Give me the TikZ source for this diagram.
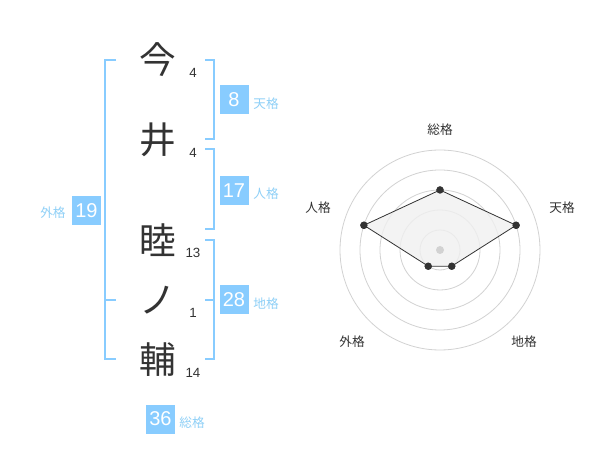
\documentclass[tikz,border=0pt]{standalone}
\usepackage{fontspec}
\setmainfont{Liberation Sans}
\newfontfamily\cjk{Noto Sans CJK JP}
\usetikzlibrary{positioning}
\definecolor{kakublue}{HTML}{88CCFF}
\definecolor{kakulabel}{HTML}{8FD0F7}
\definecolor{inkgray}{HTML}{333333}
\definecolor{ringgray}{HTML}{D2D2D2}
\definecolor{areagray}{HTML}{F0F0F0}
\tikzset{
  kanji/.style={text=inkgray, font=\cjk\fontsize{27.5}{27.5}\selectfont, inner sep=0pt},
  strokes/.style={text=inkgray, font=\fontsize{10}{10}\selectfont, inner sep=0pt},
  kakubox/.style={fill=kakublue, text=white, minimum size=21.75pt, inner sep=0pt, font=\fontsize{15}{15}\selectfont},
  kakuname/.style={text=kakulabel, font=\cjk\fontsize{9.5}{9.5}\selectfont, inner sep=0pt},
  bracket/.style={draw=kakublue, line width=1.5pt},
  ring/.style={draw=ringgray, line width=0.6pt},
  radarname/.style={text=inkgray, font=\cjk\fontsize{9.5}{9.5}\selectfont, inner sep=0pt},
  dot/.style={circle, fill=inkgray, inner sep=0pt, minimum size=5.5pt}
}
\begin{document}
\begin{tikzpicture}[x=0.75pt,y=-0.75pt]
\useasboundingbox[fill=white] (0,0) rectangle (600,470);

% name characters and stroke counts
\node (K-1) at (158,60) [kanji]{今};
\node (K-2) at (158,140) [kanji]{井};
\node (K-3) at (158,240) [kanji]{睦};
\node (K-4) at (158,300) [kanji]{ノ};
\node (K-5) at (158,360) [kanji]{輔};

\node (S-1) at (193,73) [strokes]{4};
\node (S-2) at (193,153) [strokes]{4};
\node (S-3) at (193,253) [strokes]{13};
\node (S-4) at (193,313) [strokes]{1};
\node (S-5) at (193,373) [strokes]{14};

% brackets
\path [bracket](116,60) -- (105,60) -- (105,359) -- (116,359);
\path [bracket](105,300) -- (116,300);
\path [bracket](205,60) -- (214,60) -- (214,139) -- (205,139);
\path [bracket](205,149) -- (214,149) -- (214,229) -- (205,229);
\path [bracket](205,240) -- (214,240) -- (214,359) -- (205,359);
\path [bracket](214,300) -- (205,300);

% totals
\node (Ten) at (234,100) [kakubox]{8};
\node (Jin) at (234,190.5) [kakubox]{17};
\node (Chi) at (234,300) [kakubox]{28};
\node (Gai) at (86.5,210.5) [kakubox]{19};
\node (Sou) at (160.5,419) [kakubox]{36};

\node (Ten-l) at (266,104) [kakuname]{天格};
\node (Jin-l) at (266,194) [kakuname]{人格};
\node (Chi-l) at (266,304) [kakuname]{地格};
\node (Gai-l) at (53,213) [kakuname]{外格};
\node (Sou-l) at (192,423) [kakuname]{総格};

% radar chart
\coordinate (O) at (440,250);
\draw [ring](O) circle[radius=15pt];
\draw [ring](O) circle[radius=30pt];
\draw [ring](O) circle[radius=45pt];
\draw [ring](O) circle[radius=60pt];
\draw [ring](O) circle[radius=75pt];

\node (R-sou) at ([shift={(90:45pt)}]O) [dot]{};
\node (R-ten) at ([shift={(18:60pt)}]O) [dot]{};
\node (R-chi) at ([shift={(-54:15pt)}]O) [dot]{};
\node (R-gai) at ([shift={(-126:15pt)}]O) [dot]{};
\node (R-jin) at ([shift={(162:60pt)}]O) [dot]{};

\path [fill=areagray, fill opacity=0.8, draw=inkgray, line width=0.6pt]
  (R-sou.center) -- (R-ten.center) -- (R-chi.center) -- (R-gai.center) -- (R-jin.center) -- cycle;
\node at (R-sou) [dot]{};
\node at (R-ten) [dot]{};
\node at (R-chi) [dot]{};
\node at (R-gai) [dot]{};
\node at (R-jin) [dot]{};
\node (O-dot) at (O) [circle, fill=ringgray, inner sep=0pt, minimum size=6pt]{};

\node (L-sou) at (440,130) [radarname]{総格};
\node (L-ten) at (562,208) [radarname]{天格};
\node (L-chi) at (524,342) [radarname]{地格};
\node (L-gai) at (352,342) [radarname]{外格};
\node (L-jin) at (318,208) [radarname]{人格};

\end{tikzpicture}
\end{document}
